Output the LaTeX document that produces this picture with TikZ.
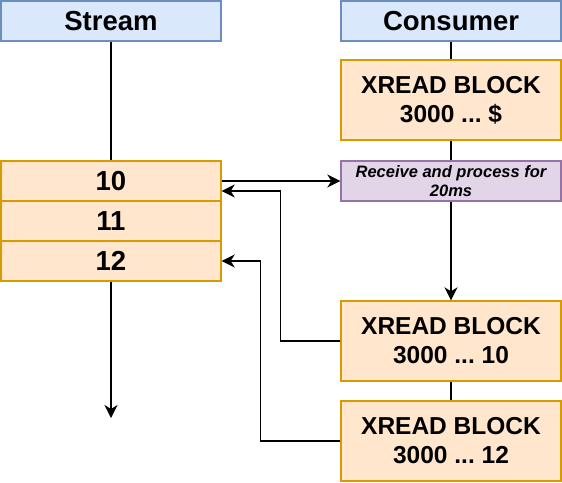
\documentclass[tikz,border=0pt]{standalone}
\usepackage{fontspec}
\setmainfont{Liberation Sans}
\usetikzlibrary{arrows.meta,calc}
\definecolor{bluefill}{HTML}{DAE8FC}
\definecolor{bluedraw}{HTML}{6C8EBF}
\definecolor{orfill}{HTML}{FFE6CC}
\definecolor{ordraw}{HTML}{D79B00}
\definecolor{pufill}{HTML}{E1D5E7}
\definecolor{pudraw}{HTML}{9673A6}
\frenchspacing
\tikzset{
  box/.style={rectangle, inner sep=0pt, minimum width=220pt, line width=1.4pt, align=center, text=black},
  hdr/.style={box, minimum height=40pt, fill=bluefill, draw=bluedraw, font=\bfseries\fontsize{27.5}{30}\selectfont},
  item/.style={box, minimum height=40pt, fill=orfill, draw=ordraw, font=\bfseries\fontsize{27.5}{30}\selectfont},
  cmd/.style={box, minimum height=80pt, fill=orfill, draw=ordraw, font=\bfseries\fontsize{24.5}{29}\selectfont},
  proc/.style={box, minimum height=40pt, fill=pufill, draw=pudraw, font=\bfseries\itshape\fontsize{16.5}{18.5}\selectfont},
  conn/.style={line width=1.4pt, black},
  arr/.style={conn, -{Stealth[length=13pt, width=13pt, inset=4pt]}},
}
\begin{document}
\begin{tikzpicture}[x=1pt, y=-1pt]
\useasboundingbox (0,0) rectangle (562,482);
\node[hdr] (sh) at (111,21) {Stream};
\node[hdr] (ch) at (451,21) {Consumer};
\node[item] (s10) at (111,181) {10};
\node[item] (s11) at (111,221) {11};
\node[item] (s12) at (111,261) {12};
\coordinate (send) at (111,418);
\node[cmd] (xs) at (451,100) {XREAD BLOCK\\3000 ... \$};
\node[proc] (pr) at (451,181) {Receive and process for\\20ms};
\node[cmd] (x10) at (451,341) {XREAD BLOCK\\3000 ... 10};
\node[cmd] (x12) at (451,441) {XREAD BLOCK\\3000 ... 12};
\draw[conn] (sh.south) -- (s10.north);
\draw[arr] (s12.south) -- (send);
\draw[conn] (ch.south) -- (xs.north);
\draw[conn] (xs.south) -- (pr.north);
\draw[arr] (pr.south) -- (x10.north);
\draw[conn] (x10.south) -- (x12.north);
\draw[arr] (s10.east) -- (pr.west);
\draw[arr] (x10.west) -- ++(-60,0) |- ([yshift=-10pt]s10.east);
\draw[arr] (x12.west) -- ++(-80,0) |- (s12.east);
\end{tikzpicture}
\end{document}
